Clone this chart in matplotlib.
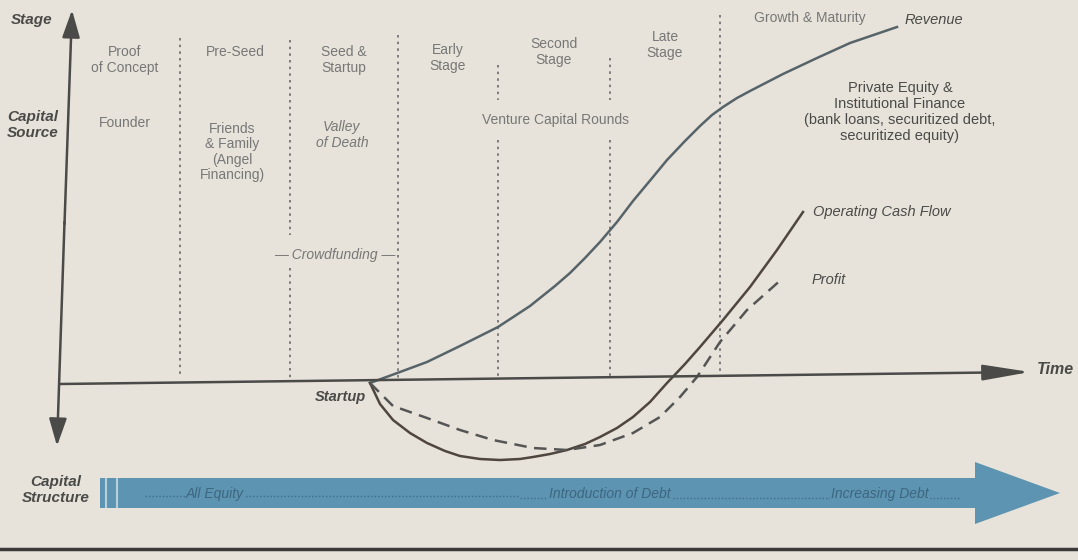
import numpy as np
import matplotlib
matplotlib.use('Agg')
from matplotlib import pyplot as plt
from matplotlib.patches import FancyArrow
import warnings
warnings.filterwarnings('ignore')

plt.rcParams['font.family'] = ['Liberation Sans Narrow', 'Liberation Sans', 'DejaVu Sans']

# Stage boundaries along the time axis (diagram units)
stage_bounds = [70, 180, 290, 398, 498, 610, 720, 900]
stage_names = ['Proof\nof Concept', 'Pre-Seed', 'Seed &\nStartup', 'Early\nStage',
               'Second\nStage', 'Late\nStage', 'Growth & Maturity']
stage_label_y = [60, 52, 60, 58, 52, 45, 18]

source_names = ['Founder', 'Friends\n& Family\n(Angel\nFinancing)', 'Valley\nof Death',
                'Venture Capital Rounds',
                'Private Equity &\nInstitutional Finance\n(bank loans, securitized debt,\nsecuritized equity)']

rev_t = [370, 400, 427, 460, 498, 530, 555, 570, 585, 600, 617, 633, 653, 667, 685, 700,
         712, 723, 737, 750, 783, 817, 850, 897]
rev_v = [383, 372, 362, 346, 327, 306, 286, 273, 258, 242, 222, 201, 177, 160, 141, 126,
         115, 107, 98, 91, 74, 58, 43, 27]
ocf_t = [370, 380, 393, 410, 427, 445, 460, 480, 500, 520, 533, 550, 567, 585, 600, 617,
         633, 650, 667, 685, 700, 723, 750, 777, 803]
ocf_v = [383, 404, 420, 433, 443, 451, 456, 459, 460, 459, 457, 454, 450, 444, 437, 428,
         417, 402, 383, 364, 347, 320, 287, 250, 212]
prof_t = [370, 393, 427, 460, 493, 533, 567, 600, 633, 660, 680, 697, 720, 747, 783]
prof_v = [383, 406, 418, 430, 440, 448, 450, 445, 433, 417, 397, 377, 342, 310, 278]

structure_labels = ['All Equity', 'Introduction of Debt', 'Increasing Debt']

bg = '#e8e3da'
txt = '#777777'
dark = '#4a4a48'
blue = '#5d94b2'

fig = plt.figure(figsize=(10.78, 5.6), dpi=100, facecolor=bg)
ax = fig.add_axes([0, 0, 1, 1])
ax.set_facecolor(bg)
ax.set_xlim(0, 1078)
ax.set_ylim(560, 0)
ax.axis('off')

# axes arrows
head = '-|>,head_length=1.4,head_width=0.45'
ax.annotate('', xy=(72, 10), xytext=(64.5, 224),
            arrowprops=dict(arrowstyle=head, color=dark, lw=1.8, mutation_scale=12, shrinkA=0, shrinkB=0))
ax.annotate('', xy=(57, 446), xytext=(64.5, 222),
            arrowprops=dict(arrowstyle=head, color=dark, lw=1.8, mutation_scale=12, shrinkA=0, shrinkB=0))
ax.annotate('', xy=(1030, 372), xytext=(60, 384),
            arrowprops=dict(arrowstyle='-|>,head_length=2.4,head_width=0.4', color=dark, lw=1.8,
                            mutation_scale=12, shrinkA=0, shrinkB=0))
ax.text(1037, 370, 'Time', fontsize=11.5, fontweight='bold', style='italic', color=dark, va='center')

ax.text(32, 20, 'Stage', fontsize=11, fontweight='bold', style='italic', color=dark, ha='center', va='center')
ax.text(33, 125, 'Capital\nSource', fontsize=11, fontweight='bold', style='italic', color=dark,
        ha='center', va='center', linespacing=1.1)
ax.text(56, 490, 'Capital\nStructure', fontsize=11, fontweight='bold', style='italic', color=dark,
        ha='center', va='center', linespacing=1.1)

# stage boundaries (dotted)
seg = {180: [(38, 378)], 290: [(40, 235), (268, 378)], 398: [(35, 378)],
       498: [(65, 100), (140, 378)], 610: [(58, 100), (140, 377)], 720: [(15, 376)]}
for x, parts in seg.items():
    for y0, y1 in parts:
        ax.plot([x, x], [y0, y1], color='#6a6a6a', lw=1.2, ls=(0, (1.5, 2.5)))

for i, name in enumerate(stage_names):
    xm = (stage_bounds[i] + stage_bounds[i + 1]) / 2
    ax.text(xm, stage_label_y[i], name, fontsize=10, color=txt, ha='center', va='center', linespacing=1.15)

ax.text(125, 123, source_names[0], fontsize=10, color=txt, ha='center', va='center')
ax.text(232, 152, source_names[1], fontsize=10, color=txt, ha='center', va='center', linespacing=1.15)
ax.text(342, 135, source_names[2], fontsize=10, color=txt, ha='center', va='center', style='italic', linespacing=1.15)
ax.text(556, 120, source_names[3], fontsize=10, color=txt, ha='center', va='center')
ax.text(900, 112, source_names[4], fontsize=10.5, color=dark, ha='center', va='center', linespacing=1.2)
ax.text(335, 255, '— Crowdfunding —', fontsize=10, color=txt, ha='center', va='center', style='italic')

# curves
ax.plot(rev_t, rev_v, color='#56646a', lw=1.8, solid_joinstyle='round')
ax.plot(ocf_t, ocf_v, color='#4e463f', lw=1.8, solid_joinstyle='round')
ax.plot(prof_t, prof_v, color='#555555', lw=1.8, ls=(0, (5, 3)))
ax.text(905, 20, 'Revenue', fontsize=10.5, style='italic', color=dark, va='center')
ax.text(813, 212, 'Operating Cash Flow', fontsize=10.5, style='italic', color=dark, va='center')
ax.text(812, 280, 'Profit', fontsize=10.5, style='italic', color=dark, va='center')
ax.text(340, 397, 'Startup', fontsize=10.5, fontweight='bold', style='italic', color=dark, ha='center', va='center')

# capital structure arrow band
band = FancyArrow(100, 493, 960, 0, width=30, head_width=62, head_length=85,
                  length_includes_head=True, color=blue, lw=0)
ax.add_patch(band)
for xs in [106, 117]:
    ax.plot([xs, xs], [479, 507], color='#b8d0dc', lw=1.5)
ax.plot([145, 520], [496, 496], color='#3f6f8a', lw=1, ls=(0, (1, 1.5)))
ax.plot([520, 960], [498, 498], color='#3f6f8a', lw=1, ls=(0, (1, 1.5)))
lab_x = [215, 610, 880]
for x, s in zip(lab_x, structure_labels):
    ax.text(x, 494, s, fontsize=10, style='italic', color='#3d6680', ha='center', va='center',
            bbox=dict(facecolor=blue, edgecolor='none', pad=1))

ax.plot([0, 1078], [549, 549], color='#3a3a3a', lw=2.5)

fig.savefig('out.png', dpi=100, facecolor=bg)
